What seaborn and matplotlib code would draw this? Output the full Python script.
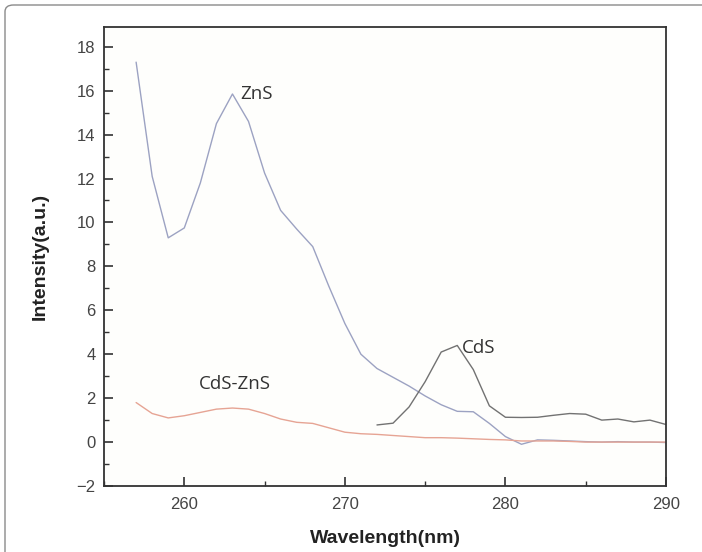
import numpy as np
import pandas as pd
import matplotlib
matplotlib.use("Agg")
import matplotlib.pyplot as plt
from matplotlib.patches import FancyBboxPatch
from matplotlib.ticker import MultipleLocator
import seaborn as sns

# ---------------- data ----------------
zns_wl = list(range(257, 291))
zns_int = [17.3, 12.1, 9.3, 9.75, 11.8, 14.5, 15.85, 14.6, 12.25, 10.55,
           9.7, 8.9, 7.1, 5.4, 4.0, 3.35, 2.95, 2.55, 2.1, 1.7,
           1.4, 1.38, 0.85, 0.25, -0.1, 0.1, 0.08, 0.05, 0.02, 0.0,
           0.02, 0.0, 0.0, -0.02]

cds_wl = list(range(272, 291))
cds_int = [0.78, 0.86, 1.6, 2.75, 4.1, 4.4, 3.3, 1.65, 1.13, 1.12,
           1.13, 1.22, 1.3, 1.27, 1.0, 1.05, 0.92, 1.0, 0.8]

czs_wl = list(range(257, 291))
czs_int = [1.8, 1.3, 1.1, 1.2, 1.35, 1.5, 1.55, 1.5, 1.3, 1.05,
           0.9, 0.85, 0.65, 0.45, 0.38, 0.35, 0.3, 0.25, 0.2, 0.2,
           0.18, 0.15, 0.12, 0.1, 0.05, 0.05, 0.05, 0.03, 0.0, 0.0,
           0.0, 0.0, 0.0, 0.0]

series_names = ["ZnS", "CdS", "CdS-ZnS"]
series_colors = {"ZnS": "#9ca2c2", "CdS": "#727272", "CdS-ZnS": "#e6a494"}

xticks = [260, 270, 280, 290]
yticks = [-2, 0, 2, 4, 6, 8, 10, 12, 14, 16, 18]

df = pd.concat([
    pd.DataFrame({"Wavelength": zns_wl, "Intensity": zns_int, "Sample": "ZnS"}),
    pd.DataFrame({"Wavelength": cds_wl, "Intensity": cds_int, "Sample": "CdS"}),
    pd.DataFrame({"Wavelength": czs_wl, "Intensity": czs_int, "Sample": "CdS-ZnS"}),
], ignore_index=True)

# ---------------- plot ----------------
sns.set_style("ticks")
plt.rcParams['font.family'] = ['Liberation Sans', 'DejaVu Sans']

fig = plt.figure(figsize=(7.02, 5.52), dpi=100, facecolor="white")
ax = fig.add_axes([104/702, 1-486/552, (666-104)/702, (486-27)/552])
ax.set_facecolor("#fefefc")

sns.lineplot(data=df, x="Wavelength", y="Intensity", hue="Sample",
             hue_order=series_names, palette=series_colors, ax=ax,
             linewidth=1.0, legend=False, sort=False, estimator=None)

ax.set_xlim(255, 290)
ax.set_ylim(-2, 18.9)
ax.set_xticks(xticks)
ax.set_yticks(yticks)
ax.xaxis.set_minor_locator(MultipleLocator(5))
ax.yaxis.set_minor_locator(MultipleLocator(1))
ax.tick_params(which="major", direction="in", length=6.5, width=1.2,
               color="#333333", labelsize=12, labelcolor="#444444", pad=6)
ax.tick_params(which="minor", direction="in", length=3.5, width=1.0, color="#333333")
ax.tick_params(axis="x", which="major", pad=8)
ax.tick_params(top=False, right=False, which="both")
for s in ax.spines.values():
    s.set_linewidth(1.3)
    s.set_color("#333333")

ax.set_xlabel("Wavelength(nm)", fontsize=14, fontweight="bold", color="#222222")
ax.set_ylabel("Intensity(a.u.)", fontsize=14, fontweight="bold", color="#222222")
ax.yaxis.set_label_coords(-0.099, 0.5)
ax.xaxis.set_label_coords(0.5, -0.095)

lab_font = ['Open Sans', 'DejaVu Sans']
ax.text(263.5, 15.85, "ZnS", fontsize=13.5, family=lab_font, color="#333333", va="center")
ax.text(277.3, 4.3, "CdS", fontsize=13.5, family=lab_font, color="#333333", va="center")
ax.text(260.9, 2.65, "CdS-ZnS", fontsize=13.5, family=lab_font, color="#333333", va="center")

# outer rounded frame
frame = FancyBboxPatch((5/702, -0.05), 1.1, 1 - 5/552 + 0.05,
                       boxstyle="round,pad=0,rounding_size=0.012",
                       transform=fig.transFigure, fill=False,
                       edgecolor="#8a8a8a", linewidth=1.0, clip_on=False)
fig.patches.append(frame)

fig.savefig("out.png", dpi=100, facecolor="white")
